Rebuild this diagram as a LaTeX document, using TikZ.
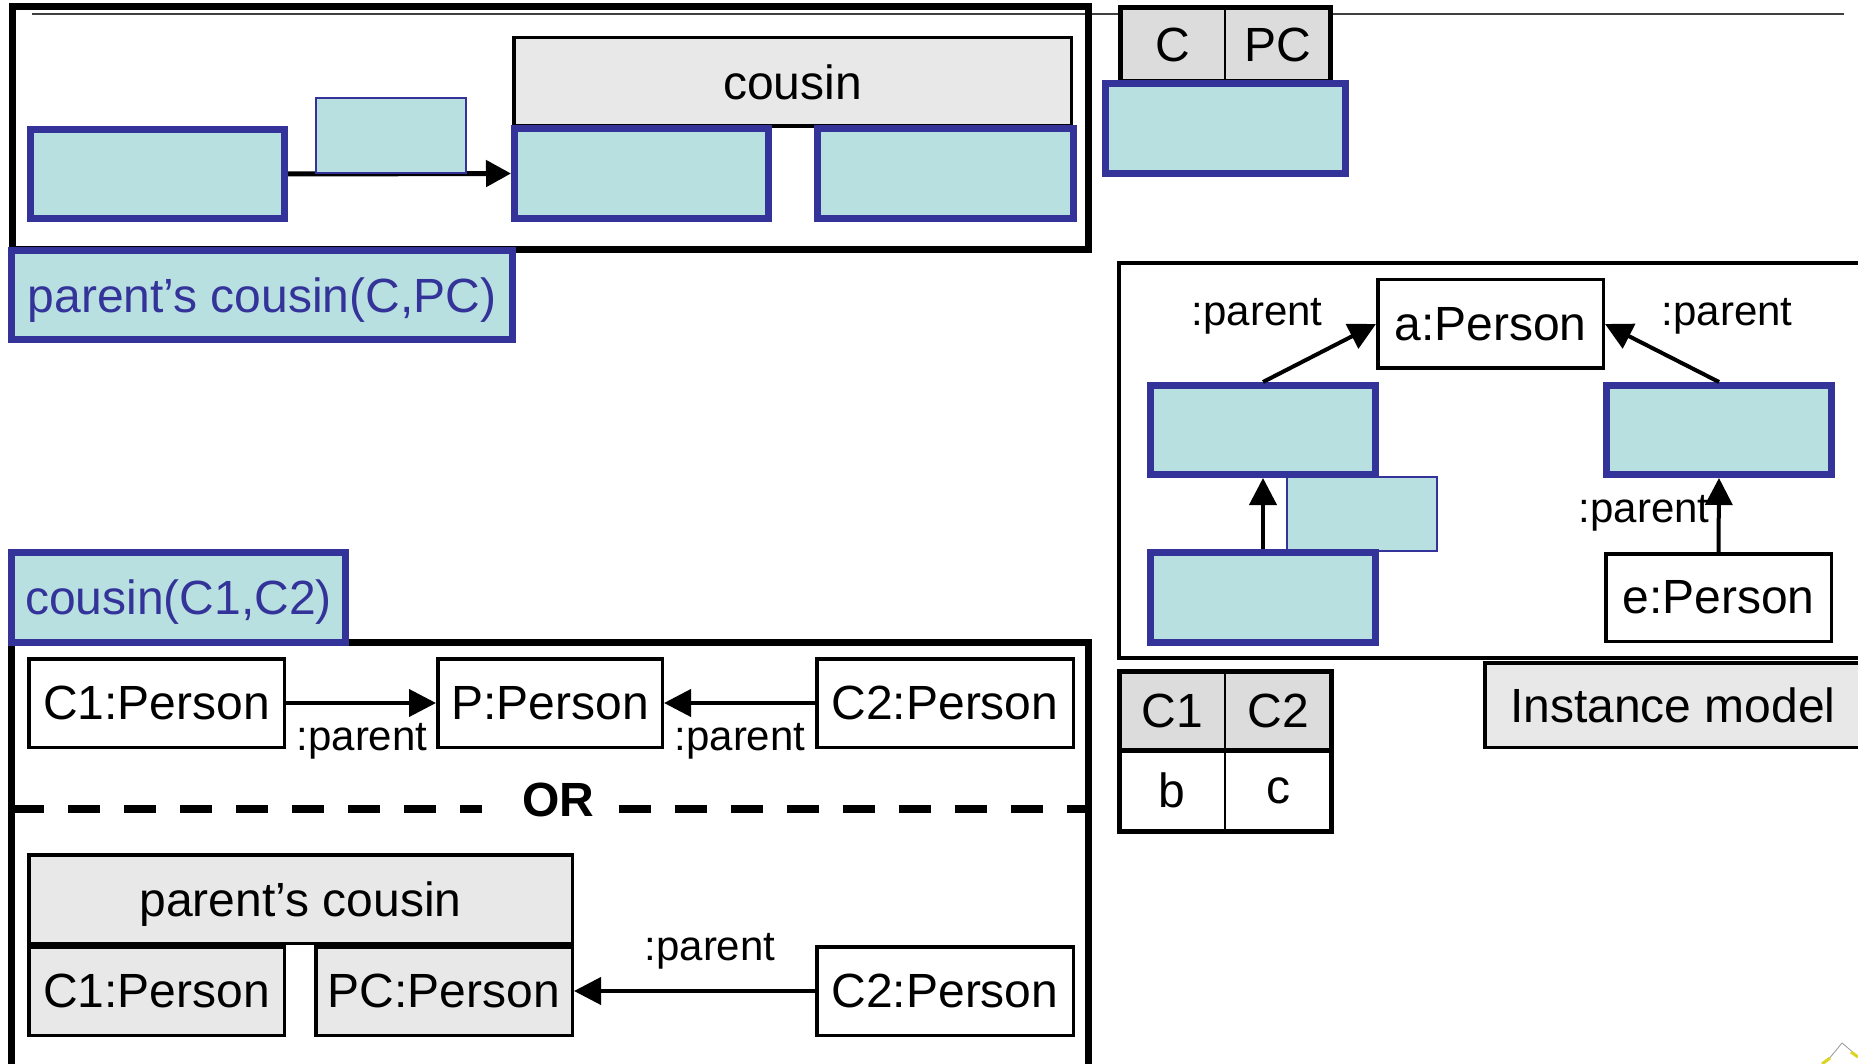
\documentclass[tikz,border=0pt]{standalone}
\usepackage{fontspec}
\setmainfont{Liberation Sans}
\usetikzlibrary{arrows.meta}

\definecolor{tealfill}{HTML}{B9E0E0}
\definecolor{navy}{HTML}{333399}
\definecolor{greybox}{HTML}{E8E8E8}
\definecolor{headfill}{HTML}{DCDCDC}

\newcommand\mainsize{\fontsize{48}{56}\selectfont}
\newcommand\labelsize{\fontsize{42}{50}\selectfont}

% rectangular node whose border runs along (x1,y1)-(x2,y2)
% #1 style, #2 name, #3 x1, #4 y1, #5 x2, #6 y2, #7 text
\newcommand\mkbox[7]{%
  \node[#1, minimum width={#5-#3}, minimum height={#6-#4}]
    (#2) at ({(#3+#5)/2},{(#4+#6)/2}) {#7};}

\tikzset{
  tealbox/.style={draw=navy, fill=tealfill, line width=7pt, inner sep=0pt},
  tealtag/.style={draw=navy, fill=tealfill, line width=2pt, inner sep=0pt},
  nametag/.style={tealbox, text=navy, font=\mainsize, text depth=0pt},
  objbox/.style={draw=black, fill=white, line width=3.5pt, inner sep=0pt, font=\mainsize},
  greyobj/.style={objbox, fill=greybox},
  cell/.style={draw=black, fill=headfill, line width=1.5pt, inner sep=0pt, font=\mainsize},
  plaincell/.style={cell, fill=white},
  tableframe/.style={draw=black, line width=5pt, inner sep=0pt},
  heavyframe/.style={draw=black, line width=7pt, inner sep=0pt},
  lightframe/.style={draw=black, line width=4pt, inner sep=0pt},
  plabel/.style={font=\labelsize, inner sep=0pt},
  link/.style={line width=4pt, -{Triangle[length=27pt,width=27pt]}},
}

\begin{document}
\begin{tikzpicture}[x=1pt, y=-1pt]
\useasboundingbox (0,0) rectangle (1858,1064);
\clip (0,0) rectangle (1858,1064);
\fill[white] (0,0) rectangle (1858,1064);

% thin rule across the top
\coordinate (ruleA) at (32,14);
\coordinate (ruleB) at (1844,14);
\draw[line width=1.5pt, black!75] (ruleA) -- (ruleB);

% ---------- parent's cousin pattern ----------
\mkbox{heavyframe}{pcframe}{12}{7}{1088}{250}{}
\mkbox{greyobj}{cousinhead}{513.75}{37.75}{1071.25}{126.25}{cousin}
\mkbox{tealbox}{pcC}{30.5}{129.5}{284.5}{218.5}{}
\mkbox{tealbox}{pcP}{514.5}{128.5}{768.5}{218.5}{}
\mkbox{tealbox}{pcPC}{817.5}{128.5}{1073.5}{218.5}{}
\draw[line width=5pt, -{Triangle[length=25pt,width=26pt]}] (pcC.east) -- (pcP.west);
\mkbox{tealtag}{pcedge}{316}{98}{466}{173}{}
\mkbox{nametag}{pcname}{11.5}{250.5}{512.5}{339.5}{parent’s cousin(C,PC)}

% result table C | PC
\mkbox{cell}{hC}{1120.5}{7.5}{1225}{82}{C}
\mkbox{cell}{hPC}{1225}{7.5}{1330.5}{82}{PC}
\mkbox{tableframe}{tabCPC}{1120.5}{7.5}{1330.5}{82}{}
\mkbox{tealbox}{rowCPC}{1105.5}{83.5}{1345.5}{173.5}{}

% ---------- instance model ----------
\mkbox{lightframe}{instframe}{1118.5}{263.5}{1880}{658}{}
\mkbox{objbox}{aP}{1377.75}{279.75}{1603.25}{368.25}{a:Person}
\mkbox{tealtag}{instedge}{1287}{477}{1437}{551}{}
\mkbox{tealbox}{instB}{1150.5}{385.5}{1375.5}{474.5}{}
\mkbox{tealbox}{instC}{1150.5}{552.5}{1375.5}{642.5}{}
\mkbox{tealbox}{instD}{1606.5}{385.5}{1831.5}{474.5}{}
\mkbox{objbox}{eP}{1605.75}{553.75}{1831.25}{641.25}{e:Person}
\draw[link] (instB.north) -- (aP.west);
\draw[link] (instD.north) -- (aP.east);
\draw[link] (instC.north) -- (instB.south);
\draw[link] (eP.north) -- (instD.south);
\node[plabel] (lbA) at (1257,316) {:parent};
\node[plabel] (lbB) at (1727,316) {:parent};
\node[plabel] (lbC) at (1644,513) {:parent};
\mkbox{greyobj}{instlabel}{1484.75}{662.75}{1861}{747.25}{Instance model}

% result table C1 | C2
\mkbox{cell}{hC1}{1119.5}{671.5}{1225}{749.5}{C1}
\mkbox{cell}{hC2}{1225}{671.5}{1331.5}{749.5}{C2}
\mkbox{plaincell}{vb}{1119.5}{749.5}{1225}{831.5}{b}
\mkbox{plaincell}{vc}{1225}{749.5}{1331.5}{831.5}{c}
\mkbox{tableframe}{tabC12}{1119.5}{671.5}{1331.5}{831.5}{}
\draw[line width=5pt] (hC1.south west) -- (hC2.south east);

% ---------- cousin pattern ----------
\mkbox{heavyframe}{cframe}{11}{642}{1088}{1100}{}
\mkbox{nametag}{cname}{11.5}{552.5}{345.5}{642.5}{cousin(C1,C2)}

\mkbox{objbox}{cC1}{28.75}{658.75}{284.25}{747.25}{C1:Person}
\mkbox{objbox}{cP}{437.75}{658.75}{662.25}{747.25}{P:Person}
\mkbox{objbox}{cC2}{816.75}{658.75}{1073.25}{747.25}{C2:Person}
\draw[link] (cC1.east) -- (cP.west);
\draw[link] (cC2.west) -- (cP.east);
\node[plabel] (lb1) at (362,741) {:parent};
\node[plabel] (lb2) at (740,741) {:parent};

% alternative separator
\coordinate (orL1) at (12,809);
\coordinate (orL2) at (482,809);
\coordinate (orR1) at (619,809);
\coordinate (orR2) at (1088,809);
\draw[line width=8pt, dash pattern=on 32pt off 24pt] (orL1) -- (orL2);
\draw[line width=8pt, dash pattern=on 32pt off 24pt] (orR1) -- (orR2);
\node[font=\mainsize\bfseries, inner sep=0pt] (ortext) at (558,800) {OR};

\mkbox{greyobj, text depth=0pt}{pchead}{28.75}{854.75}{572.25}{943.25}{parent’s cousin}
\mkbox{greyobj}{pC1}{28.75}{946.75}{284.25}{1035.25}{C1:Person}
\mkbox{greyobj}{pPC}{315.75}{946.75}{572.25}{1035.25}{PC:Person}
\mkbox{objbox}{pC2}{816.75}{946.75}{1073.25}{1035.25}{C2:Person}
\draw[link] (pC2.west) -- (pPC.east);
\node[plabel] (lb3) at (710,951) {:parent};

% small clipped icon in the corner
\fill[white] (1824,1064) -- (1842,1043) -- (1858,1056) -- (1858,1064) -- cycle;
\draw[black!40, line width=0.8pt] (1828,1060) -- (1842,1043) -- (1855,1054);
\draw[yellow!85!black, line width=3pt] (1822,1064) -- (1830,1058);
\draw[yellow!85!black, line width=3pt] (1851,1052) -- (1858,1057);
\end{tikzpicture}
\end{document}
